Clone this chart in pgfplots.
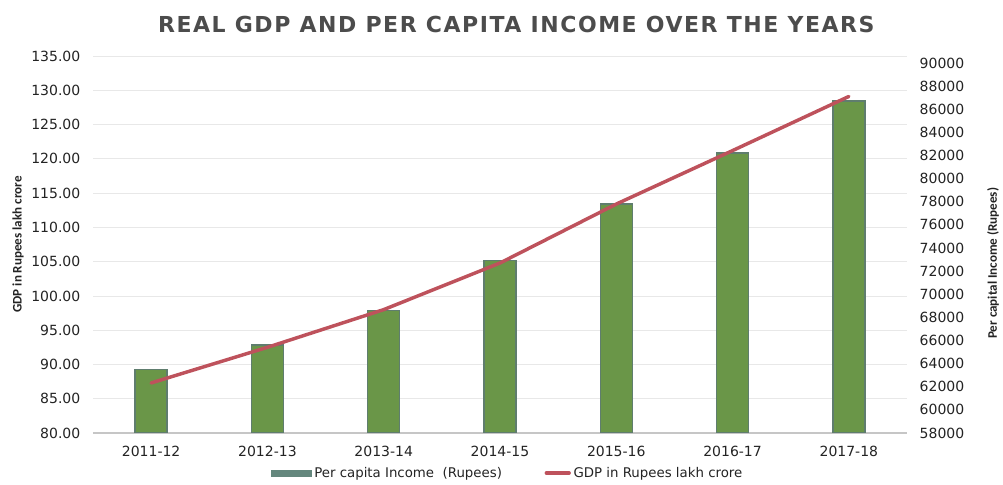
\documentclass[border=0pt]{standalone}
\usepackage{pgfplots}
\pgfplotsset{compat=1.18}
\usepackage{pgfplotstable}
\usepackage{fontspec}
\setmainfont{DejaVu Sans}
\newfontfamily\narrowfont{Carlito}

\definecolor{barfill}{RGB}{106,150,72}
\definecolor{baredge}{RGB}{95,125,110}
\definecolor{gdpline}{RGB}{190,82,92}
\definecolor{legbar}{RGB}{100,135,125}
\definecolor{txt}{RGB}{35,35,35}

% year, GDP (lakh crore, left axis), per capita income (Rs, right axis)
\pgfplotstableread{
x gdp pci
0 87.3 63500
1 92.5 65600
2 98.0 68600
3 104.8 72900
4 113.4 77800
5 121.2 82200
6 129.1 86700
}\gdpdata

\pgfplotsset{
  base/.style={
    scale only axis, width=610.5pt, height=282.75pt,
    xmin=-0.5, xmax=6.5,
    major tick length=0pt,
    ticklabel style={font=\fontsize{10.5}{12}\selectfont, text=txt},
    /pgf/number format/assume math mode=true,
  },
  barlegend/.style={legend image code/.code={\draw[##1] (-0.15cm,-0.08cm) rectangle (0.9cm,0.08cm);}},
}

\begin{document}
\begin{tikzpicture}
\useasboundingbox (-69.75pt,-39pt) rectangle (682.5pt,324.75pt);

% left axis, grid, categories
\begin{axis}[base,
  axis y line*=left, axis x line*=bottom,
  y axis line style={draw=none},
  x axis line style={gray!45, line width=0.8pt},
  ymin=80, ymax=135, ytick distance=5,
  ymajorgrids, grid style={gray!18, line width=0.6pt},
  yticklabel style={/pgf/number format/fixed, /pgf/number format/fixed zerofill, /pgf/number format/precision=2, xshift=-6pt},
  xtick={0,...,6},
  xticklabels={2011-12,2012-13,2013-14,2014-15,2015-16,2016-17,2017-18},
  xticklabel style={yshift=-6pt},
  ylabel={\narrowfont\bfseries GDP in Rupees lakh crore},
  ylabel style={at={(axis description cs:-0.092,0.5)}, anchor=center, font=\fontsize{9.8}{11}\selectfont, text=txt},
  title={\addfontfeature{LetterSpace=7}REAL GDP AND PER CAPITA INCOME OVER THE YEARS},
  title style={at={(axis description cs:0.52,1.0)}, anchor=south, yshift=8pt, font=\fontsize{16.5}{18}\bfseries, text=black!70},
]
\end{axis}

% right axis, per capita income bars
\begin{axis}[base,
  axis y line*=right, axis x line=none,
  y axis line style={draw=none},
  ymin=58000, ymax=90600, ytick distance=2000,
  scaled y ticks=false,
  yticklabel style={/pgf/number format/fixed, /pgf/number format/1000 sep={}, xshift=6pt},
  ylabel={\narrowfont\bfseries Per capital Income (Rupees)},
  ylabel style={at={(axis description cs:1.1057,0.45)}, anchor=center, font=\fontsize{9.8}{11}\selectfont, text=txt},
  ybar, bar width=24pt,
]
\addplot[fill=barfill, draw=baredge, line width=1pt] table[x=x, y=pci] {\gdpdata};
\end{axis}

% GDP line on the left scale
\begin{axis}[base,
  hide axis,
  ymin=80, ymax=135,
  legend columns=2,
  legend style={at={(axis description cs:0.51,-0.106)}, anchor=center, draw=none, fill=none,
    font=\fontsize{10}{12}\selectfont, text=txt,
    /tikz/every even column/.append style={column sep=30pt}},
]
\addlegendimage{barlegend, fill=legbar, draw=legbar}
\addlegendentry{Per capita Income\ \ (Rupees)}
\addplot[gdpline, line width=2.6pt, line cap=round] table[x=x, y=gdp] {\gdpdata};
\addlegendentry{GDP in Rupees lakh crore}
\end{axis}
\end{tikzpicture}
\end{document}
